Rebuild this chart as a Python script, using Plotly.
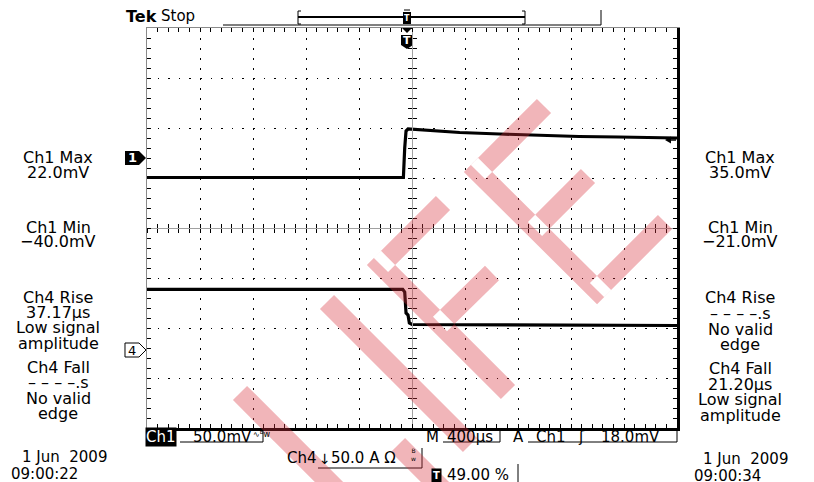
import math
import plotly.graph_objects as go

# ---------------- data ----------------
# time in microseconds relative to the trigger point
ch1_t_us = [-1960, -25, -15, -5, 10, 60, 200, 400, 700, 1000, 1300, 1600, 2040]
ch1_mv = [-19.5, -19.5, 10, 27, 29, 28.5, 27, 25.5, 24, 22.5, 21.5, 21, 20]

ch4_t_us = [-1960, -30, -15, -5, 10, 20, 40, 1000, 2040]
ch4_amp = [60.7, 60.7, 58, 37, 35, 27, 25.5, 25, 24.5]

time_per_div_us = 400
trigger_pos = 0.49          # 49.00 %
ch1_mv_per_div = 50
ch4_a_per_div = 50
ch1_offset_div = 1.4        # Ch1 ground marker position (divisions above centre)
ch4_offset_div = -2.44      # Ch4 ground marker position
ch1_trig_level_mv = 18.0

left_labels = ["Ch1 Max", "22.0mV", "Ch1 Min", "\u221240.0mV", "Ch4 Rise", "37.17\u00b5s",
               "Low signal", "amplitude", "Ch4 Fall", "\u2013 \u2013 \u2013 \u2013.s", "No valid", "edge"]
left_label_y = [157, 172, 227, 242, 297, 312, 327, 343, 367, 382, 398, 413]
right_labels = ["Ch1 Max", "35.0mV", "Ch1 Min", "\u221221.0mV", "Ch4 Rise", "\u2013 \u2013 \u2013 \u2013.s",
                "No valid", "edge", "Ch4 Fall", "21.20\u00b5s", "Low signal", "amplitude"]
right_label_y = [157, 172, 227, 242, 297, 313, 329, 344, 368, 384, 399, 415]

# ---------------- geometry ----------------
# the page body has an 8px margin, so the figure is drawn 8px in from the window corner
OFF = 8
W, H = 814 - OFF, 482 - OFF
L, R, T, B = 147, 677, 28, 428      # plot area in window pixels
FONT = "DejaVu Sans"

x_range = [-trigger_pos * 10 * time_per_div_us, (1 - trigger_pos) * 10 * time_per_div_us]
y1_range = [(-4 - ch1_offset_div) * ch1_mv_per_div, (4 - ch1_offset_div) * ch1_mv_per_div]
y4_range = [(-4 - ch4_offset_div) * ch4_a_per_div, (4 - ch4_offset_div) * ch4_a_per_div]


def pp(px, py):
    return (px - L) / (R - L), (B - py) / (B - T)


fig = go.Figure()
fig.add_trace(go.Scatter(x=ch1_t_us, y=ch1_mv, mode="lines", line=dict(color="black", width=3.2),
                         xaxis="x", yaxis="y", hoverinfo="skip", showlegend=False))
fig.add_trace(go.Scatter(x=ch4_t_us, y=ch4_amp, mode="lines", line=dict(color="black", width=3.2),
                         xaxis="x", yaxis="y2", hoverinfo="skip", showlegend=False))
for xa, ya in [("x2", "y"), ("x3", "y3"), ("x4", "y4")]:
    fig.add_trace(go.Scatter(x=[None], y=[None], xaxis=xa, yaxis=ya, hoverinfo="skip", showlegend=False))

minor_x = dict(dtick=time_per_div_us / 5, tick0=x_range[0], ticks="inside", ticklen=4,
               tickcolor="black", tickwidth=1, showgrid=False)
common_x = dict(range=x_range, tick0=x_range[0], dtick=time_per_div_us, showticklabels=False,
                zeroline=False, fixedrange=True, ticklen=4, tickcolor="black", tickwidth=1)

fig.update_layout(
    width=W, height=H, margin=dict(l=L - OFF, r=814 - R, t=T - OFF, b=482 - B),
    paper_bgcolor="white", plot_bgcolor="white", showlegend=False,
    xaxis=dict(**common_x, showgrid=True, gridcolor="black", gridwidth=1.2, griddash="1.5px,8.5px",
               ticks="inside", minor=minor_x, showline=True, linewidth=3, linecolor="black"),
    xaxis2=dict(**common_x, overlaying="x", side="top", anchor="y", showgrid=False, ticks="inside",
                minor=minor_x, showline=True, linewidth=1, linecolor="#8a8a8a"),
    xaxis3=dict(**common_x, overlaying="x", anchor="free", position=0.5, showgrid=False,
                ticks="inside", minor=minor_x, showline=True, linewidth=1, linecolor="#a0a0a0"),
    xaxis4=dict(**common_x, overlaying="x", anchor="free", position=0.5, showgrid=False,
                ticks="outside", minor=dict(minor_x, ticks="outside"), showline=False),
    yaxis=dict(range=y1_range, tick0=y1_range[0], dtick=ch1_mv_per_div, showticklabels=False,
               zeroline=False, fixedrange=True, showgrid=True, gridcolor="black", gridwidth=1.2,
               griddash="1.5px,9.1px", ticks="inside", ticklen=4, tickcolor="black",
               minor=dict(dtick=ch1_mv_per_div / 5, tick0=y1_range[0], ticks="inside", ticklen=4,
                          tickcolor="black", showgrid=False),
               showline=True, linewidth=1, linecolor="#8a8a8a"),
    yaxis2=dict(range=y4_range, tick0=y4_range[0], dtick=ch4_a_per_div, showticklabels=False,
                zeroline=False, fixedrange=True, overlaying="y", side="right", anchor="x",
                showgrid=False, ticks="inside", ticklen=4, tickcolor="black",
                minor=dict(dtick=ch4_a_per_div / 5, tick0=y4_range[0], ticks="inside", ticklen=4,
                           tickcolor="black", showgrid=False),
                showline=True, linewidth=3, linecolor="black"),
    yaxis3=dict(range=y1_range, tick0=y1_range[0], dtick=ch1_mv_per_div, showticklabels=False,
                zeroline=False, fixedrange=True, overlaying="y", anchor="free", position=0.5,
                side="left", showgrid=False, ticks="inside", ticklen=4, tickcolor="black",
                minor=dict(dtick=ch1_mv_per_div / 5, tick0=y1_range[0], ticks="inside", ticklen=4,
                           tickcolor="black", showgrid=False),
                showline=True, linewidth=1, linecolor="#a0a0a0"),
    yaxis4=dict(range=y1_range, tick0=y1_range[0], dtick=ch1_mv_per_div, showticklabels=False,
                zeroline=False, fixedrange=True, overlaying="y", anchor="free", position=0.5,
                side="left", showgrid=False, ticks="outside", ticklen=4, tickcolor="black",
                minor=dict(dtick=ch1_mv_per_div / 5, tick0=y1_range[0], ticks="outside", ticklen=4,
                           tickcolor="black", showgrid=False),
                showline=False),
)

ann = []


def txt(px, py, text, size=16, xanchor="center", color="black", bold=False, bg=None, pad=1):
    x, y = pp(px, py)
    d = dict(x=x, y=y, xref="paper", yref="paper", text=("<b>%s</b>" % text) if bold else text,
             showarrow=False, xanchor=xanchor, yanchor="middle",
             font=dict(family=FONT, size=size, color=color), borderpad=pad)
    if bg:
        d["bgcolor"] = bg
    ann.append(d)


for t, y in zip(left_labels, left_label_y):
    txt(58, y, t)
for t, y in zip(right_labels, right_label_y):
    txt(740, y, t)

# header
txt(124, 17, "Tek", size=16, xanchor="left", bold=True)
txt(159, 16, "Stop", size=15, xanchor="left")

# bottom status area
txt(161, 437, "Ch1", size=15, color="white", bg="black", pad=0)
txt(191, 437, "50.0mV", size=15, xanchor="left")
txt(251, 434, "\u223f<sup>B</sup>w", size=8, xanchor="left")
txt(424, 437, "M", size=15, xanchor="left")
txt(445, 437, "400\u00b5s", size=15, xanchor="left")
txt(511, 437, "A", size=15, xanchor="left")
txt(534, 437, "Ch1", size=15, xanchor="left")
txt(576, 437, "\u0283", size=15, xanchor="left")
txt(599, 437, "18.0mV", size=15, xanchor="left")
txt(285, 458, "Ch4", size=15, xanchor="left")
txt(317, 459, "\u2193", size=14, xanchor="left")
txt(329, 458, "50.0 A \u03a9", size=15, xanchor="left")
txt(409, 455, "B<br>w", size=6, xanchor="left")
txt(436, 475, "T", size=10, color="white", bg="black", bold=True, pad=1)
txt(445, 475, "49.00 %", size=15, xanchor="left")
txt(20, 457, "1 Jun  2009", size=15, xanchor="left")
txt(9, 474, "09:00:22", size=15, xanchor="left")
txt(701, 459, "1 Jun  2009", size=15, xanchor="left")
txt(692, 476, "09:00:34", size=15, xanchor="left")

# channel markers
txt(132, 158, "1", size=13, color="white", bold=True)
txt(132, 350, "4", size=13)
txt(407, 41, "T", size=11, color="white", bold=True)
txt(407, 18, "T", size=8, color="white", bold=True)

shapes = []


def line(p1, p2, w=1, color="black"):
    x0, y0 = pp(*p1)
    x1, y1 = pp(*p2)
    shapes.append(dict(type="line", xref="paper", yref="paper", x0=x0, y0=y0, x1=x1, y1=y1,
                       line=dict(color=color, width=w)))


def poly(points, fill="black", edge=None, ew=1, layer="above"):
    path = "M " + " L ".join("%.5f,%.5f" % pp(*p) for p in points) + " Z"
    d = dict(type="path", xref="paper", yref="paper", path=path, fillcolor=fill, layer=layer,
             line=dict(width=ew if edge else 0, color=edge or "rgba(0,0,0,0)"))
    shapes.append(d)


# record-length bar at the top
line((223, 25), (601, 25), 1)
line((601, 10), (601, 25), 1)
line((298, 17), (525, 17), 2)
line((298, 11), (298, 24), 1)
line((298, 11), (301, 11), 1)
line((298, 24), (301, 24), 1)
line((525, 11), (525, 24), 1)
line((522, 11), (525, 11), 1)
line((522, 24), (525, 24), 1)
poly([(403, 12), (411, 12), (411, 24), (403, 24)])
line((404, 10), (410, 10), 1)
# trigger position marker
poly([(402, 28), (412, 28), (407, 33)])
poly([(401, 35), (413, 35), (413, 45), (407, 49), (401, 45)], layer="below")
# channel ground markers
poly([(125, 151), (139, 151), (146, 158), (139, 165), (125, 165)], layer="below")
poly([(125, 343), (139, 343), (146, 350), (139, 357), (125, 357)], fill="white", edge="black",
     ew=1, layer="below")
# trigger level marker on the right (Ch1 axis)
xa, _ = pp(665, 0)
xb, _ = pp(671, 0)
xc, _ = pp(676, 0)
shapes.append(dict(type="path", xref="paper", yref="y",
                   path="M %.5f,%.3f L %.5f,%.3f L %.5f,%.3f Z" % (
                       xa, ch1_trig_level_mv, xb, ch1_trig_level_mv + 3.5, xb, ch1_trig_level_mv - 3.5),
                   fillcolor="black", line=dict(width=0)))
shapes.append(dict(type="line", xref="paper", yref="y", x0=xb, x1=xc, y0=ch1_trig_level_mv,
                   y1=ch1_trig_level_mv, line=dict(color="black", width=1.5)))

# bottom underlines / separators
line((180, 442), (263, 442), 1)
line((263, 430), (263, 442), 1)
line((443, 442), (500, 442), 1)
line((500, 430), (500, 442), 1)
line((528, 442), (677, 442), 1)
line((677, 430), (677, 442), 1)
line((318, 468), (422, 468), 1)
line((422, 448), (422, 468), 1)
line((518, 464), (518, 482), 1)

# watermark (diagonal letters)
WM = "rgba(215,50,60,0.36)"


def stroke(p1, p2, w=10, e1=0, e2=0):
    dx, dy = p2[0] - p1[0], p2[1] - p1[1]
    ln = math.hypot(dx, dy)
    ux, uy = dx / ln, dy / ln
    nx, ny = -uy, ux
    a = (p1[0] - ux * e1, p1[1] - uy * e1)
    b = (p2[0] + ux * e2, p2[1] + uy * e2)
    pts = [(a[0] + nx * w, a[1] + ny * w), (b[0] + nx * w, b[1] + ny * w),
           (b[0] - nx * w, b[1] - ny * w), (a[0] - nx * w, a[1] - ny * w)]
    return "M " + " L ".join("%.5f,%.5f" % pp(*p) for p in pts) + " Z"


letters = [
    [stroke((240, 393), (352, 505))],
    [stroke((327, 302), (470, 445))],
    [stroke((398, 445), (442, 489))],
    [stroke((381, 265), (508, 392), e1=10), stroke((381, 265), (443, 203)),
     stroke((440, 324), (492, 273))],
    [stroke((478, 172), (597, 290), e1=10, e2=10), stroke((478, 172), (544, 106)),
     stroke((535, 229), (588, 176)), stroke((597, 290), (665, 222))],
]
for parts in letters:
    shapes.append(dict(type="path", xref="paper", yref="paper", path=" ".join(parts),
                       fillcolor=WM, line=dict(width=0), layer="above"))

fig.update_layout(annotations=ann, shapes=shapes)
fig.write_html("out.html")
